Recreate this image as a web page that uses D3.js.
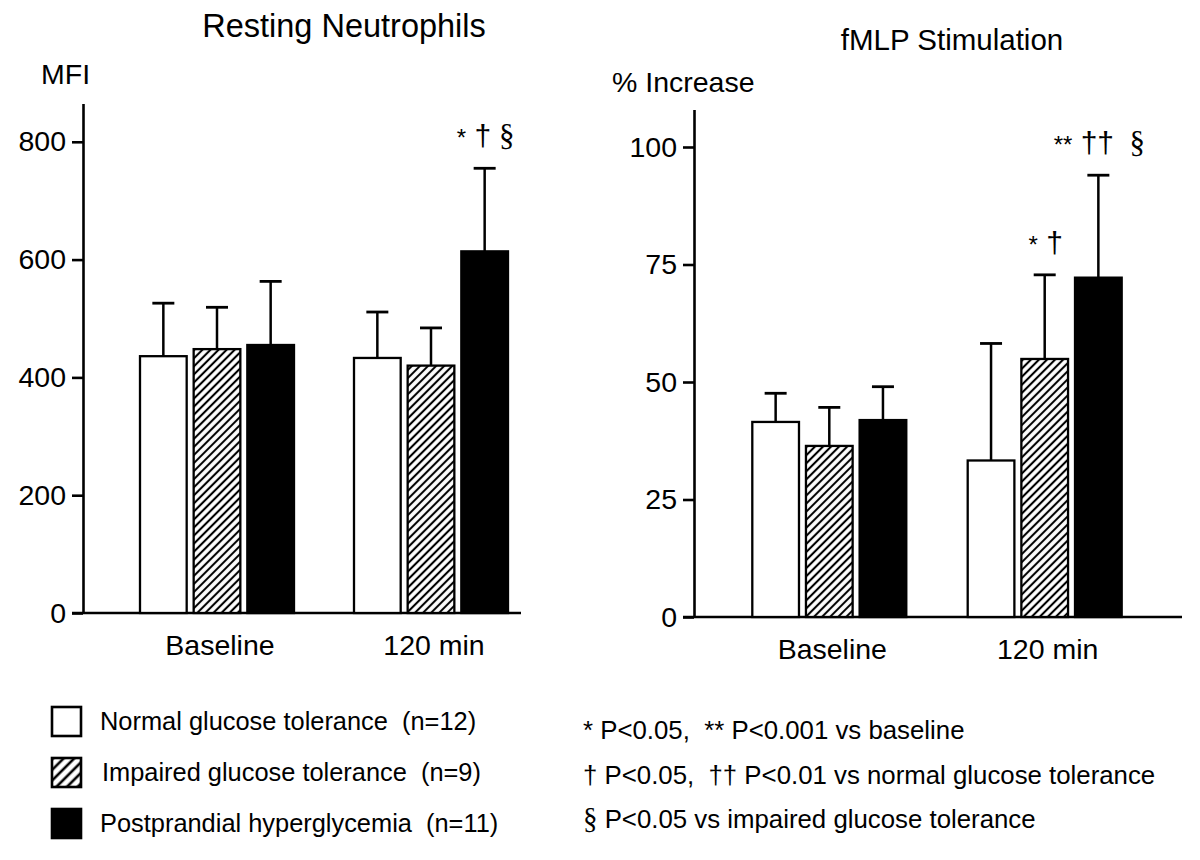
<!DOCTYPE html>
<html>
<head>
<meta charset="utf-8">
<script src="https://cdn.jsdelivr.net/npm/d3@7"></script>
<style>
  html, body { margin: 0; padding: 0; background: #fff; }
  svg { display: block; font-family: "Liberation Sans", Arial, Helvetica, sans-serif; }
  text { white-space: pre; }
</style>
</head>
<body>
<svg id="chart" width="1200" height="860"></svg>
<script>
// ---------- data ----------
const groups = ["Baseline", "120 min"];
const seriesNames = ["Normal glucose tolerance  (n=12)", "Impaired glucose tolerance  (n=9)", "Postprandial hyperglycemia  (n=11)"];
const seriesFills = ["white", "url(#hatch)", "black"];

// Resting neutrophils (MFI)
const mfiBaseline = [436, 448, 455];
const mfiBaselineSD = [90, 71, 108];
const mfi120 = [433, 420, 614];
const mfi120SD = [78, 64, 141];
const mfiTicks = [0, 200, 400, 600, 800];

// fMLP stimulation (% increase)
const fmlpBaseline = [41.5, 36.4, 41.9];
const fmlpBaselineSD = [6.1, 8.2, 7.1];
const fmlp120 = [33.3, 54.9, 72.2];
const fmlp120SD = [24.9, 17.9, 21.8];
const fmlpTicks = [0, 25, 50, 75, 100];

// significance marks: [group index, series index, label parts]
const mfiMarks = [[1, 2, ["*", " †", " §"]]];
const fmlpMarks = [[1, 1, ["*", " †"]], [1, 2, ["**", " ††", "  §"]]];

const legendNotes = [
  "* P<0.05,  ** P<0.001 vs baseline",
  "† P<0.05,  †† P<0.01 vs normal glucose tolerance",
  "§ P<0.05 vs impaired glucose tolerance"
];

// ---------- drawing ----------
const svg = d3.select("#chart");
const defs = svg.append("defs");
function hatch(id, size, sw) {
  const p = defs.append("pattern").attr("id", id)
    .attr("patternUnits", "userSpaceOnUse")
    .attr("width", size).attr("height", size)
    .attr("patternTransform", "rotate(45)");
  p.append("rect").attr("width", size).attr("height", size).attr("fill", "white");
  p.append("line").attr("x1", size / 2).attr("x2", size / 2).attr("y1", 0).attr("y2", size)
    .attr("stroke", "black").attr("stroke-width", sw);
}
hatch("hatch", 5.7, 2.1);
hatch("hatchLegend", 7.5, 2.6);

function panel(cfg) {
  const g = svg.append("g");
  const y = d3.scaleLinear().domain([0, cfg.yMax]).range(cfg.yRange);
  const x = d3.scaleBand().domain(groups).range(cfg.xRange).padding(0);
  const inner = d3.scaleBand().domain([0, 1, 2]).range([-77, 77]).paddingInner(0.13);

  // title and axis label
  g.append("text").attr("x", cfg.titleX).attr("y", cfg.titleY)
    .attr("text-anchor", "middle").attr("font-size", cfg.titleSize).text(cfg.title);
  g.append("text").attr("x", cfg.yLabelX).attr("y", cfg.yLabelY)
    .attr("font-size", 28.5).text(cfg.yLabel);

  // y axis
  const yAxis = d3.axisLeft(y).tickValues(cfg.ticks).tickSize(11).tickSizeOuter(0).tickPadding(6);
  const ya = g.append("g").attr("transform", `translate(${cfg.axisX},0)`).call(yAxis);
  ya.select(".domain").attr("stroke", "black").attr("stroke-width", 2.6);
  ya.selectAll(".tick line").attr("stroke", "black").attr("stroke-width", 2.6);
  ya.selectAll(".tick text").attr("font-size", 28.5).attr("fill", "black")
    .attr("font-family", "Liberation Sans, Arial, sans-serif");

  // baseline (x axis)
  g.append("line").attr("x1", cfg.axisX - 11).attr("x2", cfg.xAxisEnd)
    .attr("y1", y(0)).attr("y2", y(0)).attr("stroke", "black").attr("stroke-width", 2.6);

  // category labels
  g.selectAll(".cat").data(groups).enter().append("text")
    .attr("x", d => x(d) + x.bandwidth() / 2 + 3).attr("y", y(0) + 42)
    .attr("text-anchor", "middle").attr("font-size", 28.5).text(d => d);

  const rows = [];
  cfg.means.forEach((arr, gi) => arr.forEach((m, si) => rows.push({
    gi, si, mean: m, sd: cfg.sds[gi][si]
  })));
  const cx = d => x(groups[d.gi]) + x.bandwidth() / 2 + inner(d.si) + inner.bandwidth() / 2;

  // error bars (upward only)
  g.selectAll(".err").data(rows).enter().append("line")
    .attr("x1", cx).attr("x2", cx)
    .attr("y1", d => y(d.mean)).attr("y2", d => y(d.mean + d.sd))
    .attr("stroke", "black").attr("stroke-width", 2.5);
  g.selectAll(".cap").data(rows).enter().append("line")
    .attr("x1", d => cx(d) - 11).attr("x2", d => cx(d) + 11)
    .attr("y1", d => y(d.mean + d.sd)).attr("y2", d => y(d.mean + d.sd))
    .attr("stroke", "black").attr("stroke-width", 2.8);

  // bars
  g.selectAll(".bar").data(rows).enter().append("rect")
    .attr("x", d => x(groups[d.gi]) + x.bandwidth() / 2 + inner(d.si))
    .attr("width", inner.bandwidth())
    .attr("y", d => y(d.mean)).attr("height", d => y(0) - y(d.mean))
    .attr("fill", d => seriesFills[d.si])
    .attr("stroke", "black").attr("stroke-width", 2.3);

  // significance marks
  cfg.marks.forEach(([gi, si, parts]) => {
    const d = rows.find(r => r.gi === gi && r.si === si);
    const t = g.append("text").attr("x", cx(d) + 1).attr("y", y(d.mean + d.sd) - 22)
      .attr("text-anchor", "middle");
    parts.forEach(p => {
      const s = t.append("tspan").text(p);
      if (p.includes("§")) s.attr("font-family", "Liberation Serif, Times New Roman, serif").attr("font-size", 31);
      else if (p.includes("*")) s.attr("font-size", 24);
      else s.attr("font-size", 30);
    });
  });
}

panel({
  title: "Resting Neutrophils", titleX: 344, titleY: 37, titleSize: 32.5,
  yLabel: "MFI", yLabelX: 41, yLabelY: 84,
  yMax: 865, yRange: [613, 103.5], ticks: mfiTicks,
  xRange: [110, 538], axisX: 83, xAxisEnd: 521,
  means: [mfiBaseline, mfi120], sds: [mfiBaselineSD, mfi120SD],
  marks: mfiMarks
});

panel({
  title: "fMLP Stimulation", titleX: 952, titleY: 50, titleSize: 29.5,
  yLabel: "% Increase", yLabelX: 612, yLabelY: 92,
  yMax: 108, yRange: [617, 109.4], ticks: fmlpTicks,
  xRange: [721.6, 1152.4], axisX: 694, xAxisEnd: 1182,
  means: [fmlpBaseline, fmlp120], sds: [fmlpBaselineSD, fmlp120SD],
  marks: fmlpMarks
});

// legend (series)
const leg = svg.append("g");
const legFills = ["white", "url(#hatchLegend)", "black"];
seriesNames.forEach((n, i) => {
  const yy = 707 + i * 51;
  leg.append("rect").attr("x", 52).attr("y", yy).attr("width", 29).attr("height", 29)
    .attr("fill", legFills[i]).attr("stroke", "black").attr("stroke-width", 2.6);
  leg.append("text").attr("x", 100 + (i === 1 ? 2 : 0)).attr("y", yy + 23)
    .attr("font-size", 25.4).text(n);
});

// legend (significance notes)
legendNotes.forEach((n, i) => {
  const t = leg.append("text").attr("x", 583).attr("y", 739 + i * 44.5).attr("font-size", 25.8);
  if (n.startsWith("§")) {
    t.append("tspan").attr("font-family", "Liberation Serif, Times New Roman, serif").attr("font-size", 29).text("§");
    t.append("tspan").text(n.slice(1));
  } else {
    t.text(n);
  }
});
</script>
</body>
</html>
